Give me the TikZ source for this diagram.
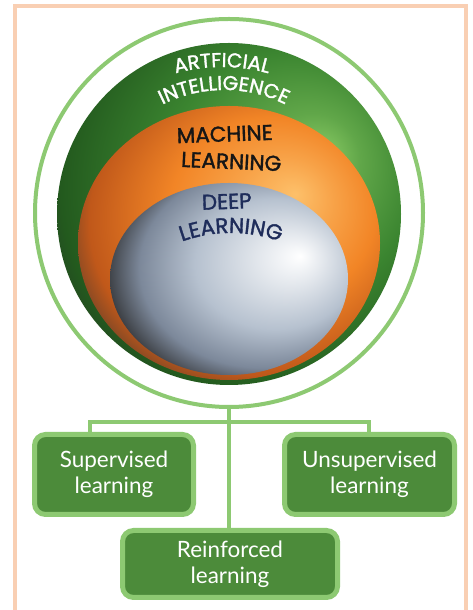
\documentclass[tikz,border=0pt]{standalone}
\usepackage{fontspec}
\setmainfont{Lato}
\newfontfamily\capsfont{Poppins}[FakeBold=1.6]
\usetikzlibrary{decorations.text}

\definecolor{framepeach}{HTML}{F9CFB3}
\definecolor{ringgreen}{HTML}{8DC972}
\definecolor{boxgreen}{HTML}{4C8B3A}
\definecolor{navytext}{HTML}{1E2C5A}
\definecolor{mltext}{HTML}{161616}
% sphere colours
\definecolor{aihi}{HTML}{86C862}
\definecolor{aimid}{HTML}{3B8530}
\definecolor{aidark}{HTML}{235A1E}
\definecolor{mlhi}{HTML}{FDC06A}
\definecolor{mlmid}{HTML}{F28526}
\definecolor{mldark}{HTML}{C0581A}
\definecolor{dlhi}{HTML}{FFFFFF}
\definecolor{dlmid}{HTML}{B6C1CF}
\definecolor{dldark}{HTML}{7C889A}

% off-centre highlights (upper right)
\pgfdeclareradialshading{aiball}{\pgfpoint{14bp}{9bp}}{%
  color(0bp)=(aihi); color(7bp)=(aihi!50!aimid); color(18bp)=(aimid);
  color(30bp)=(aidark); color(37bp)=(black!85); color(50bp)=(black)}
\pgfdeclareradialshading{mlball}{\pgfpoint{11bp}{9bp}}{%
  color(0bp)=(mlhi); color(8bp)=(mlhi!50!mlmid); color(17bp)=(mlmid);
  color(28bp)=(mldark); color(35bp)=(black!80); color(50bp)=(black)}
\pgfdeclareradialshading{dlball}{\pgfpoint{15bp}{6bp}}{%
  color(0bp)=(dlhi); color(7bp)=(dlhi!60!dlmid); color(17bp)=(dlmid);
  color(26bp)=(dldark); color(33bp)=(black!85); color(50bp)=(black)}

\pgfdeclarelayer{under}
\pgfsetlayers{under,main}

\tikzset{
  link/.style={draw=ringgreen, line width=3.5pt},
  learnbox/.style={draw=ringgreen, fill=boxgreen, line width=5pt,
    rounded corners=11pt, text=white, align=center, inner sep=0pt,
    font=\fontsize{22.5}{26}\selectfont},
  arclabel/.style={decorate, decoration={text along path, text align=center,
    text={#1}}},
  flatlabel/.style={font=\capsfont\innersize, anchor=base, inner sep=0pt},
}
\newcommand{\arcsize}{\fontsize{20}{20}\selectfont}
\newcommand{\innersize}{\fontsize{21.5}{21.5}\selectfont}

\begin{document}
\begin{tikzpicture}[x=1pt, y=1pt]
  \useasboundingbox (0,0) rectangle (472,610);
  \begin{pgfonlayer}{under}
    \fill[white] (0,0) rectangle (472,610);
    % page frame, open at the bottom edge
    \draw[framepeach, line width=3.5pt] (15,-20) rectangle (466,604);
  \end{pgfonlayer}

  % outer ring
  \node[circle, draw=ringgreen, line width=4pt, minimum size=388pt,
        inner sep=0pt] (ring) at (229,397) {};

  % nested spheres
  \shade[shading=aiball] (229,396) ellipse [x radius=172, y radius=171];
  \shade[shading=mlball] (229,367) ellipse [x radius=151, y radius=137];
  \shade[shading=dlball] (229,331) ellipse [x radius=119, y radius=96];

  % curved titles
  \path[arclabel={|\capsfont\arcsize\color{white}|ARTFICIAL}]
    ([shift={(120:172)}]222,371) arc[start angle=120, end angle=60, radius=172];
  \path[arclabel={|\capsfont\arcsize\color{white}|INTELLIGENCE}]
    ([shift={(150:137)}]224,383) arc[start angle=150, end angle=30, radius=137];
  \node[flatlabel, text=mltext, rotate=2] (mlA) at (225,468.5) {MACHINE};
  \node[flatlabel, text=mltext, rotate=-2.5] (mlB) at (231,441) {LEARNING};
  \node[flatlabel, text=navytext, rotate=2] (dlA) at (227,401) {DEEP};
  \path[arclabel={|\capsfont\innersize\color{navytext}|LEARNING}]
    ([shift={(125:145)}]231,232) arc[start angle=125, end angle=55, radius=145];

  % learning types
  \node[learnbox, minimum width=159pt, minimum height=80pt]
    (sup) at (114,135.5) {Supervised\\learning};
  \node[learnbox, minimum width=170pt, minimum height=80pt]
    (uns) at (369.5,135.5) {Unsupervised\\learning};
  \node[learnbox, minimum width=215pt, minimum height=67pt]
    (rei) at (230,46) {Reinforced\\learning};

  % connectors, kept beneath the boxes
  \coordinate (hubL) at (90,188);
  \coordinate (hubR) at (369,188);
  \begin{pgfonlayer}{under}
    \draw[link] (ring.south) -- (ring.south |- rei.north);
    \draw[link] (hubL |- sup.north) -- (hubL) -- (hubR) -- (hubR |- uns.north);
  \end{pgfonlayer}
\end{tikzpicture}
\end{document}
